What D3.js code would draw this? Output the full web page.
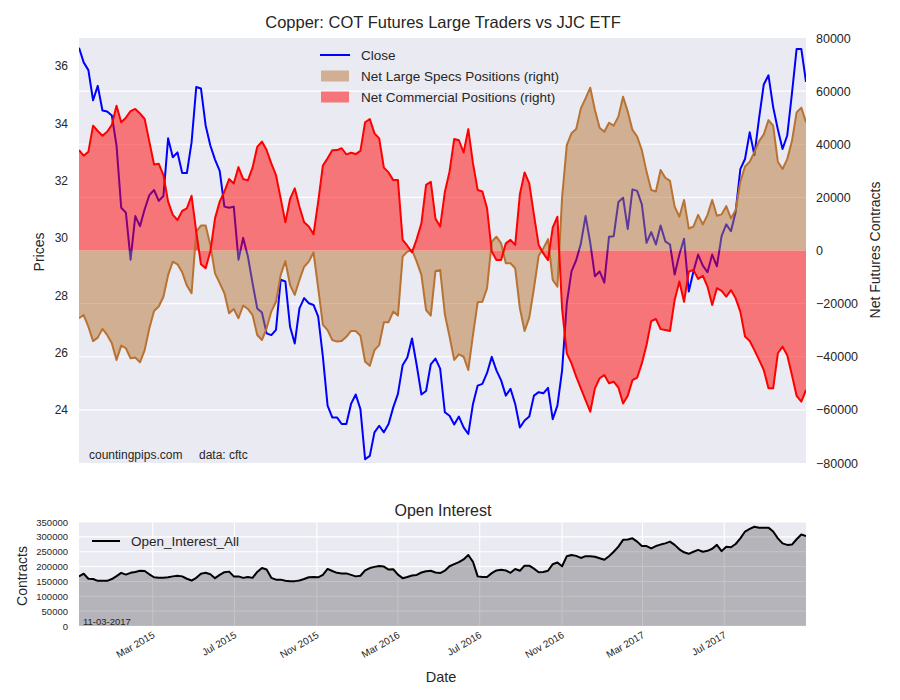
<!DOCTYPE html>
<html><head><meta charset="utf-8">
<script src="https://cdn.jsdelivr.net/npm/d3@7"></script>
<style>
body{margin:0;background:#fff}
text{font-family:"Liberation Sans",Arial,sans-serif;fill:#262626}
</style>
</head><body>
<svg id="chart" width="900" height="700"></svg>
<script>
// ---------------- DATA ----------------
const firstWeek = "2014-11-11"; // weekly COT report dates (Tuesdays)
const closePrice = [
36.63,36.12,35.85,34.80,35.30,34.44,34.41,34.27,33.22,31.05,30.88,29.24,30.76,30.41,31.00,31.49,31.67,31.29,31.46,33.47,
32.81,32.98,32.26,32.26,33.33,35.26,35.21,33.92,33.22,32.73,32.34,31.09,31.05,31.09,29.24,30.00,29.36,28.42,27.54,27.40,
26.67,26.61,26.79,28.54,28.48,26.90,26.32,27.54,27.90,27.72,27.66,27.25,25.85,24.15,23.74,23.74,23.51,23.51,24.21,24.54,
24.03,22.28,22.40,23.22,23.45,23.22,23.51,24.09,24.56,25.56,25.83,26.49,25.56,24.54,24.66,25.59,25.79,25.44,23.92,23.80,
23.49,23.77,23.39,23.16,24.21,24.85,24.91,25.29,25.85,25.38,25.03,24.50,24.74,24.21,23.39,23.63,23.77,24.50,24.62,24.58,
24.77,23.68,24.15,25.38,27.72,28.83,29.22,29.80,30.76,29.83,28.66,28.83,28.44,30.04,30.06,31.25,31.40,30.31,31.69,31.64,
31.17,29.83,30.20,29.77,30.43,29.88,29.77,28.72,29.42,29.97,28.13,28.83,29.42,29.03,28.80,29.42,29.01,30.06,30.47,30.23,
30.90,32.40,32.75,33.68,32.89,34.18,35.35,35.67,34.56,33.78,33.10,33.57,35.03,36.59,36.59,35.44];
const netLargeSpecs = [
-25500,-24300,-28700,-34100,-32800,-29500,-31800,-34900,-41200,-35800,-36800,-40600,-40300,-42100,-37500,-29300,-22800,-21100,-17400,-9200,
-4200,-5200,-8200,-13200,-16100,7100,9400,9400,2100,-8600,-12300,-16100,-23600,-22000,-25500,-20700,-22000,-24300,-31800,-33700,
-29300,-23000,-19300,-9200,-4000,-13000,-16700,-11100,-6100,-4200,-700,-14200,-28000,-30000,-33700,-34300,-34100,-32500,-30300,-30300,
-32100,-41900,-43400,-37500,-35600,-27000,-27000,-23000,-24500,-2300,-400,200,-4200,-9200,-22400,-24500,-7700,-7300,-24000,-32400,
-41200,-39100,-40000,-45000,-31800,-19500,-19300,-14200,3300,5200,2700,-4800,-4800,-6700,-21800,-30300,-25300,-14200,-2000,800,
4300,-11100,-13600,20000,39700,44100,45700,53500,57300,61300,52900,46200,44700,48100,47000,50400,57900,52300,45400,42900,
37800,29700,22800,22200,30300,27400,26200,16500,12700,19000,8300,9000,13400,9800,13400,19000,13100,13600,16700,12100,
15200,25900,31600,33400,37000,41200,43700,49100,47000,33400,30700,34400,41200,52000,53800,48300];
const netCommercial = [
37800,35700,37200,47000,45000,43200,44700,47300,54500,48300,50000,52500,53300,51600,49500,41000,32400,32700,28400,18400,
13400,11500,14900,15900,20600,7100,-5200,-6700,-400,12100,18400,22200,26900,25200,31400,26900,26400,31200,39000,41000,
37800,32800,28400,19600,10600,19400,23400,16500,10600,9000,6100,18400,32000,34700,37700,37800,38500,36200,36800,36300,
37500,48300,49500,44100,42200,31200,29400,26500,26500,4000,1800,-700,4300,10200,24700,25900,12000,9000,22000,29700,
42000,41500,36900,45700,32800,22800,22200,15900,-400,-3600,-3600,2700,4000,2100,21200,29400,25300,13400,2100,-1100,
-3600,8600,12700,-22000,-38700,-42500,-47500,-51900,-56300,-60700,-51900,-48100,-46900,-50000,-49400,-51600,-57600,-54700,-48800,-47900,
-42500,-35600,-26600,-25800,-29600,-29900,-30300,-18600,-11700,-19300,-8000,-7300,-10700,-9500,-13600,-20500,-14200,-15200,-17400,-14900,
-18000,-23000,-32400,-34100,-37500,-41200,-45000,-51900,-51900,-38700,-36200,-39400,-46900,-54700,-56900,-52500];
const openInterest = [
167000,176000,159000,158000,152000,152000,152000,158000,168000,179000,173000,179000,182000,186000,185000,174000,164000,162000,162000,164000,
167000,169000,167000,159000,153000,162000,176000,179000,174000,161000,172000,181000,183000,167000,167000,162000,165000,162000,182000,195000,
190000,162000,156000,156000,152000,151000,151000,153000,158000,164000,165000,164000,172000,192000,185000,179000,177000,177000,172000,167000,
169000,187000,195000,199000,202000,200000,190000,191000,173000,161000,165000,170000,172000,180000,184000,186000,180000,178000,186000,201000,
208000,215000,224000,239000,216000,167000,165000,165000,178000,187000,189000,187000,179000,192000,186000,203000,203000,193000,181000,182000,
186000,208000,214000,201000,235000,239000,236000,229000,235000,235000,233000,228000,223000,235000,250000,267000,290000,291000,295000,284000,
269000,269000,261000,269000,274000,278000,284000,273000,258000,248000,243000,250000,256000,250000,253000,260000,273000,252000,267000,265000,
276000,295000,318000,327000,334000,331000,331000,331000,318000,295000,278000,273000,274000,292000,308000,303000];
const priceTicks = [24,26,28,30,32,34,36];
const netTicks = [-80000,-60000,-40000,-20000,0,20000,40000,60000,80000];
const oiTicks = [0,50000,100000,150000,200000,250000,300000,350000];
const dateTicks = ["2015-03-01","2015-07-01","2015-11-01","2016-03-01","2016-07-01","2016-11-01","2017-03-01","2017-07-01"];
const legendTop = ["Close","Net Large Specs Positions (right)","Net Commercial Positions (right)"];

// ---------------- SETUP ----------------
const parse = d3.timeParse("%Y-%m-%d");
const start = parse(firstWeek);
const dates = closePrice.map((_, i) => d3.timeWeek.offset(start, i));
const tickDates = dateTicks.map(parse);
const svg = d3.select("#chart");
const BG = "#EAEAF2", COPPER = "#B87333";

const L = 79, R = 806;
const T1 = 38, B1 = 463, T2 = 522, B2 = 626;

const x = d3.scaleTime().domain([dates[0], dates[dates.length - 1]]).range([L, R]);
const yP = d3.scaleLinear().domain([22.15, 36.97]).range([B1, T1]);
const yN = d3.scaleLinear().domain([-80000, 80000]).range([B1, T1]);
const yO = d3.scaleLinear().domain([0, 350000]).range([B2, T2]);

const defs = svg.append("defs");
defs.append("clipPath").attr("id", "clip1").append("rect").attr("x", L).attr("y", T1).attr("width", R - L).attr("height", B1 - T1);
defs.append("clipPath").attr("id", "clip2").append("rect").attr("x", L).attr("y", T2).attr("width", R - L).attr("height", B2 - T2);

// ---------------- TOP CHART ----------------
svg.append("rect").attr("x", L).attr("y", T1).attr("width", R - L).attr("height", B1 - T1).attr("fill", BG);
const g1 = svg.append("g").attr("clip-path", "url(#clip1)");
g1.selectAll("line.grid").data(netTicks.slice(1, -1)).join("line")
  .attr("x1", L).attr("x2", R).attr("y1", d => yN(d)).attr("y2", d => yN(d))
  .attr("stroke", "#fff").attr("stroke-width", 1.1);

const lineP = d3.line().x((d, i) => x(dates[i])).y(d => yP(d));
g1.append("path").datum(closePrice).attr("d", lineP).attr("fill", "none").attr("stroke", "#0000ff").attr("stroke-width", 2).attr("stroke-linejoin", "round");

const areaN = d3.area().x((d, i) => x(dates[i])).y0(yN(0)).y1(d => yN(d));
const lineN = d3.line().x((d, i) => x(dates[i])).y(d => yN(d));
g1.append("path").datum(netLargeSpecs).attr("d", areaN).attr("fill", COPPER).attr("fill-opacity", 0.5);
g1.append("path").datum(netCommercial).attr("d", areaN).attr("fill", "#ff0000").attr("fill-opacity", 0.5);
g1.append("path").datum(netLargeSpecs).attr("d", lineN).attr("fill", "none").attr("stroke", COPPER).attr("stroke-width", 2).attr("stroke-linejoin", "round");
g1.append("path").datum(netCommercial).attr("d", lineN).attr("fill", "none").attr("stroke", "#ff0000").attr("stroke-width", 2).attr("stroke-linejoin", "round");

// axes (labels only, seaborn darkgrid style)
svg.append("g").attr("transform", `translate(${L - 11},0)`)
  .call(d3.axisLeft(yP).tickValues(priceTicks).tickSize(0).tickPadding(0))
  .call(g => g.select(".domain").remove())
  .selectAll("text").attr("font-size", 12).attr("fill", "#262626").attr("font-family", '"Liberation Sans",Arial,sans-serif');
svg.append("g").attr("transform", `translate(${R + 10},0)`)
  .call(d3.axisRight(yN).tickValues(netTicks).tickSize(0).tickPadding(0).tickFormat(d => d < 0 ? "\u2212" + Math.abs(d) : String(d)))
  .call(g => g.select(".domain").remove())
  .selectAll("text").attr("font-size", 12.5).attr("fill", "#262626").attr("font-family", '"Liberation Sans",Arial,sans-serif');

svg.append("text").attr("x", 443).attr("y", 28).attr("text-anchor", "middle").attr("font-size", 16.5).text("Copper: COT Futures Large Traders vs JJC ETF");
svg.append("text").attr("transform", "translate(44,252) rotate(-90)").attr("text-anchor", "middle").attr("font-size", 14).text("Prices");
svg.append("text").attr("transform", "translate(880,250) rotate(-90)").attr("text-anchor", "middle").attr("font-size", 14).text("Net Futures Contracts");
svg.append("text").attr("x", 89).attr("y", 459).attr("font-size", 12).text("countingpips.com");
svg.append("text").attr("x", 199).attr("y", 459).attr("font-size", 12).text("data: cftc");

// legend top
const lg = svg.append("g");
lg.append("line").attr("x1", 320).attr("x2", 350).attr("y1", 55).attr("y2", 55).attr("stroke", "#0000ff").attr("stroke-width", 2);
lg.append("rect").attr("x", 321).attr("y", 70.5).attr("width", 28).attr("height", 11).attr("fill", COPPER).attr("fill-opacity", 0.5);
lg.append("rect").attr("x", 321).attr("y", 91.5).attr("width", 28).attr("height", 11).attr("fill", "#ff0000").attr("fill-opacity", 0.5);
legendTop.forEach((t, i) => lg.append("text").attr("x", 361).attr("y", 55 + i * 21).attr("dy", "0.35em").attr("font-size", 13.5).text(t));

// ---------------- BOTTOM CHART ----------------
svg.append("rect").attr("x", L).attr("y", T2).attr("width", R - L).attr("height", B2 - T2).attr("fill", BG);
const g2 = svg.append("g").attr("clip-path", "url(#clip2)");
g2.selectAll("line.h").data(oiTicks).join("line")
  .attr("x1", L).attr("x2", R).attr("y1", d => yO(d)).attr("y2", d => yO(d))
  .attr("stroke", "#fff").attr("stroke-width", 1.1);
g2.selectAll("line.v").data(tickDates).join("line")
  .attr("y1", T2).attr("y2", B2).attr("x1", d => x(d)).attr("x2", d => x(d))
  .attr("stroke", "#fff").attr("stroke-width", 1.1);
const areaO = d3.area().x((d, i) => x(dates[i])).y0(yO(0)).y1(d => yO(d));
const lineO = d3.line().x((d, i) => x(dates[i])).y(d => yO(d));
g2.append("path").datum(openInterest).attr("d", areaO).attr("fill", "#000").attr("fill-opacity", 0.23);
g2.append("path").datum(openInterest).attr("d", lineO).attr("fill", "none").attr("stroke", "#000").attr("stroke-width", 2).attr("stroke-linejoin", "round");

svg.append("g").attr("transform", `translate(${L - 11},0)`)
  .call(d3.axisLeft(yO).tickValues(oiTicks).tickSize(0).tickPadding(0).tickFormat(d => String(d)))
  .call(g => g.select(".domain").remove())
  .selectAll("text").attr("font-size", 9.5).attr("fill", "#262626").attr("font-family", '"Liberation Sans",Arial,sans-serif');

const fmt = d3.timeFormat("%b %Y");
svg.append("g").selectAll("text").data(tickDates).join("text")
  .attr("transform", d => `translate(${x(d) + 1},${B2 + 8}) rotate(-30)`)
  .attr("text-anchor", "end").attr("dy", "0.35em").attr("font-size", 10).text(d => fmt(d));

svg.append("text").attr("x", 443).attr("y", 516).attr("text-anchor", "middle").attr("font-size", 16).text("Open Interest");
svg.append("text").attr("transform", "translate(27,576) rotate(-90)").attr("text-anchor", "middle").attr("font-size", 14).text("Contracts");
svg.append("text").attr("x", 441).attr("y", 682).attr("text-anchor", "middle").attr("font-size", 14.5).text("Date");
svg.append("text").attr("x", 83).attr("y", 625).attr("font-size", 9.5).text("11-03-2017");
svg.append("line").attr("x1", 92).attr("x2", 120).attr("y1", 541).attr("y2", 541).attr("stroke", "#000").attr("stroke-width", 2);
svg.append("text").attr("x", 131).attr("y", 541).attr("dy", "0.35em").attr("font-size", 13.5).text("Open_Interest_All");
</script>
</body></html>
